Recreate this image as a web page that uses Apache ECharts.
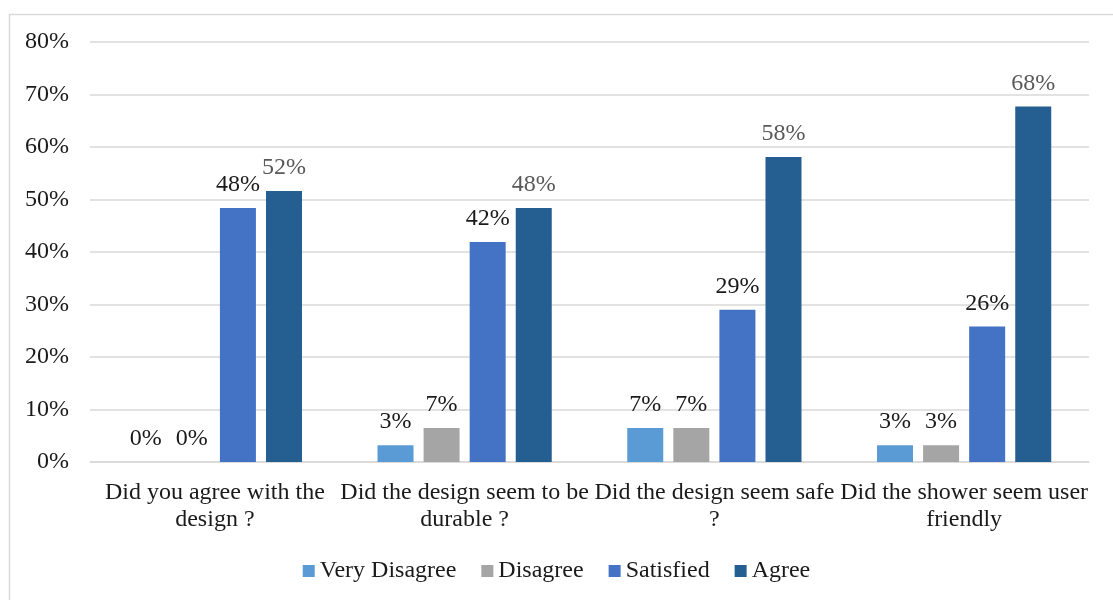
<!DOCTYPE html>
<html>
<head>
<meta charset="utf-8">
<script src="https://cdn.jsdelivr.net/npm/echarts@6/dist/echarts.min.js"></script>
<style>
html,body{margin:0;padding:0;background:#fff;}
#chart{width:1113px;height:600px;}
</style>
</head>
<body>
<div id="chart"></div>
<script>
var categories = [
  "Did you agree with the\ndesign ?",
  "Did the design seem to be\ndurable ?",
  "Did the design seem safe\n?",
  "Did the shower seem user\nfriendly"
];
var seriesNames = ["Very Disagree", "Disagree", "Satisfied", "Agree"];
var veryDisagree = [0, 3.2, 6.5, 3.2];
var disagree = [0, 6.5, 6.5, 3.2];
var satisfied = [48.4, 41.9, 29.0, 25.8];
var agree = [51.6, 48.4, 58.1, 67.7];
var yTicks = [0, 10, 20, 30, 40, 50, 60, 70, 80];

var colors = ["#5B9BD5", "#A5A5A5", "#4472C4", "#255E91"];
var labelColors = ["#1a1a1a", "#1a1a1a", "#1a1a1a", "#595959"];
var allValues = [veryDisagree, disagree, satisfied, agree];
var FONT = "'Liberation Serif', 'Times New Roman', serif";

var chart = echarts.init(document.getElementById('chart'));
var series = seriesNames.map(function (name, i) {
  return {
    name: name,
    type: 'bar',
    data: allValues[i],
    barWidth: 36,
    barGap: '28%',
    itemStyle: { color: colors[i] },
    label: {
      show: true,
      position: 'top',
      distance: 11,
      color: labelColors[i],
      fontFamily: FONT,
      fontSize: 24,
      formatter: function (p) { return Math.round(p.value) + '%'; }
    }
  };
});

chart.setOption({
  animation: false,
  backgroundColor: '#fff',
  graphic: [{
    type: 'rect',
    left: 7, top: 12,
    shape: { width: 1200, height: 700 },
    style: { fill: 'none', stroke: '#D9D9D9', lineWidth: 1.5 },
    silent: true
  }],
  grid: { left: 90, right: 24, top: 42, bottom: 138, containLabel: false },
  legend: {
    data: seriesNames,
    top: 554,
    left: 'center',
    icon: 'rect',
    itemWidth: 12,
    itemHeight: 12,
    itemGap: 25,
    textStyle: { fontFamily: FONT, fontSize: 24, color: '#1a1a1a' }
  },
  xAxis: {
    type: 'category',
    data: categories,
    axisLine: { show: true, lineStyle: { color: '#D9D9D9', width: 1.5 } },
    axisTick: { show: false },
    axisLabel: {
      interval: 0,
      margin: 17,
      fontFamily: FONT,
      fontSize: 24,
      lineHeight: 27,
      color: '#1a1a1a'
    }
  },
  yAxis: {
    type: 'value',
    min: yTicks[0],
    max: yTicks[yTicks.length - 1],
    interval: 10,
    axisLine: { show: false },
    axisTick: { show: false },
    splitLine: { lineStyle: { color: '#D9D9D9', width: 1.5 } },
    axisLabel: {
      margin: 21,
      fontFamily: FONT,
      fontSize: 24,
      color: '#1a1a1a',
      formatter: function (v) { return v + '%'; }
    }
  },
  series: series
});
</script>
</body>
</html>
